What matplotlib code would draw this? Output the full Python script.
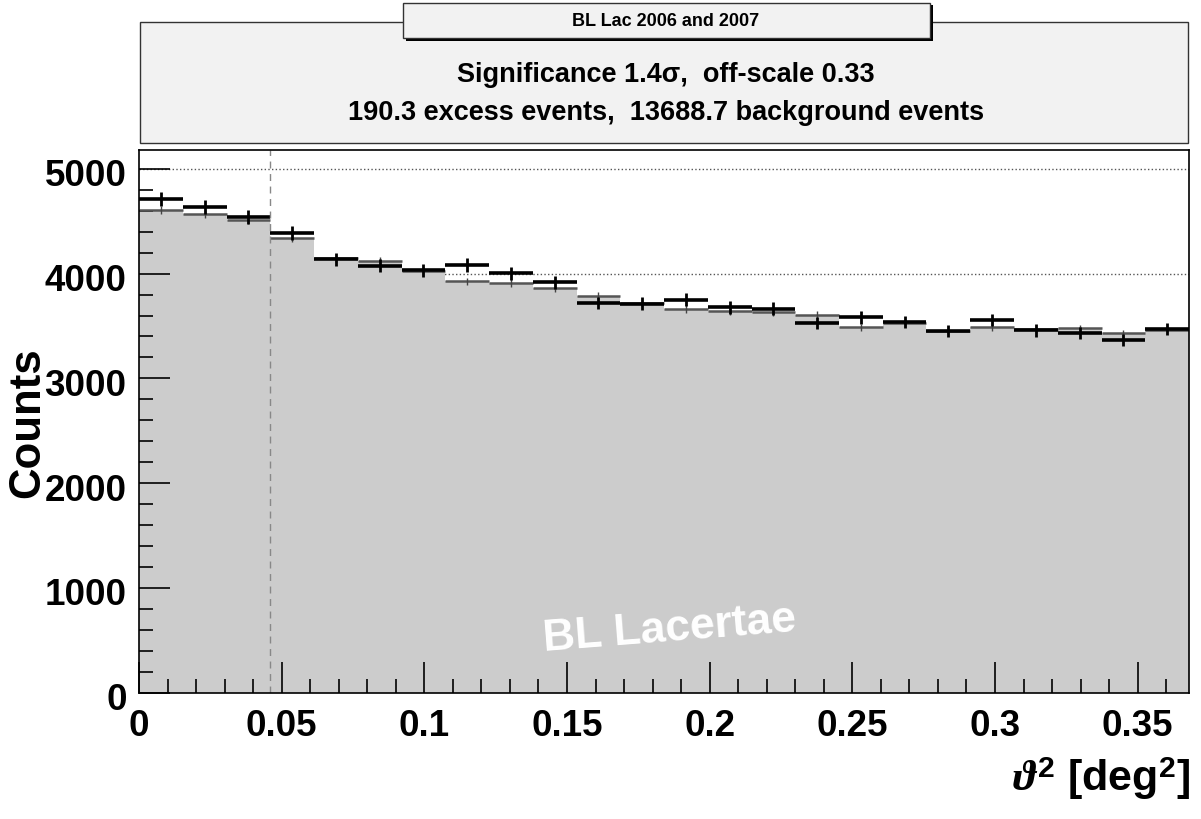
import numpy as np
import matplotlib
matplotlib.use("Agg")
import matplotlib.pyplot as plt
import matplotlib.transforms as mtrans
from matplotlib.patches import Rectangle

# theta^2 histogram, 24 bins from 0 to 0.368 deg^2
bin_edges = np.linspace(0, 0.368, 25)
theta_cut = 0.046

# ON counts (black crosses) and normalised OFF counts (grey histogram)
on_counts = [4712, 4636, 4540, 4385, 4135, 4077, 4030, 4083, 4005, 3917, 3720, 3713,
             3751, 3678, 3665, 3529, 3582, 3538, 3452, 3557, 3458, 3433, 3366, 3472]
on_err = [69, 68, 67, 66, 64, 64, 63, 64, 63, 63, 61, 61,
          61, 61, 61, 59, 60, 59, 59, 60, 59, 59, 58, 59]
off_counts = [4608, 4570, 4511, 4337, 4145, 4124, 4025, 3926, 3909, 3863, 3790, 3723,
              3663, 3640, 3630, 3608, 3489, 3532, 3455, 3491, 3472, 3477, 3429, 3465]
off_err = [39, 39, 39, 38, 37, 37, 36, 36, 36, 36, 35, 35,
           35, 35, 35, 35, 34, 34, 34, 34, 34, 34, 34, 34]

x_ticks = [0, 0.05, 0.1, 0.15, 0.2, 0.25, 0.3, 0.35]
x_ticklabels = ["0", "0.05", "0.1", "0.15", "0.2", "0.25", "0.3", "0.35"]
y_ticks = [0, 1000, 2000, 3000, 4000, 5000]

title = "BL Lac 2006 and 2007"
line1 = "Significance 1.4σ,  off-scale 0.33"
line2 = "190.3 excess events,  13688.7 background events"
source = "BL Lacertae"

plt.rcParams["font.family"] = ["Liberation Sans", "DejaVu Sans"]
plt.rcParams["font.weight"] = "bold"
plt.rcParams["mathtext.fontset"] = "custom"
plt.rcParams["mathtext.rm"] = "Liberation Sans:bold"
plt.rcParams["mathtext.bf"] = "Liberation Sans:bold"
plt.rcParams["mathtext.it"] = "Liberation Serif:italic"

W, H = 1201, 819
fig = plt.figure(figsize=(W / 100, H / 100), dpi=100)
ax = fig.add_axes([139 / W, 1 - 692.7 / H, 1050 / W, (692.7 - 150) / H])

centers = 0.5 * (bin_edges[:-1] + bin_edges[1:])
ax.hlines(y_ticks, 0, 0.368, colors="#555555", linestyles=":", lw=1.0, zorder=0.5)
ax.stairs(off_counts, bin_edges, fill=True, color="#cccccc", zorder=1)
ax.hlines(off_counts, bin_edges[:-1], bin_edges[1:], color="#555555", lw=1.8, zorder=2)
ax.errorbar(centers, off_counts, yerr=off_err, fmt="none", ecolor="#444444",
            elinewidth=1.0, zorder=3)
ax.hlines(on_counts, bin_edges[:-1], bin_edges[1:], color="black", lw=2.6, zorder=4)
ax.errorbar(centers, on_counts, yerr=on_err, fmt="none", ecolor="black",
            elinewidth=2.0, zorder=4)
ax.axvline(theta_cut, color="#888888", ls=(0, (5, 4)), lw=1.0, zorder=5)

ax.set_xlim(0, 0.368)
ax.set_ylim(0, 5180)
ax.set_xticks(x_ticks)
ax.set_xticklabels(x_ticklabels)
ax.set_xticks(np.arange(0, 0.368, 0.01), minor=True)
ax.set_yticks(y_ticks)
ax.set_yticks(np.arange(0, 5180, 200), minor=True)
ax.tick_params(which="both", direction="in", top=False, right=False, width=1.2)
ax.tick_params(which="major", length=22, labelsize=26.5)
ax.tick_params(which="minor", length=10)
ax.tick_params(axis="y", pad=9)
ax.tick_params(axis="x", pad=12)
shift = mtrans.ScaledTranslation(0, -4 / 100, fig.dpi_scale_trans)
for lab in ax.get_yticklabels():
    lab.set_transform(lab.get_transform() + shift)
for s in ax.spines.values():
    s.set_linewidth(1.2)
    s.set_zorder(6)

fig.text(28 / W, 1 - 423 / H, "Counts", rotation=90, ha="center", va="center",
         fontsize=31.5, fontweight="bold")
fig.text(1190 / W, 1 - 779 / H, r"$\vartheta^{2}$ [deg$^{2}$]", ha="right",
         va="center", fontsize=31, fontweight="bold")
ax.text(0.186, 600, source, rotation=4.5, ha="center", va="center",
        fontsize=32, fontweight="bold", color="white", zorder=6)

# title panes
big = Rectangle((140 / W, 1 - 143 / H), 1048 / W, 121 / H, transform=fig.transFigure,
                facecolor="#f2f2f2", edgecolor="#333333", lw=1.0)
fig.patches.append(big)
shadow = Rectangle((406 / W, 1 - 41 / H), 527 / W, 36 / H, transform=fig.transFigure,
                   facecolor="black", edgecolor="none")
fig.patches.append(shadow)
small = Rectangle((403 / W, 1 - 38 / H), 527 / W, 35 / H, transform=fig.transFigure,
                  facecolor="#f2f2f2", edgecolor="#333333", lw=1.0)
fig.patches.append(small)
fig.text(666 / W, 1 - 21 / H, title, ha="center", va="center", fontsize=13)
fig.text(666 / W, 1 - 75 / H, line1, ha="center", va="center", fontsize=19.5)
fig.text(666 / W, 1 - 113 / H, line2, ha="center", va="center", fontsize=19.5)

fig.savefig("out.png", dpi=100)
